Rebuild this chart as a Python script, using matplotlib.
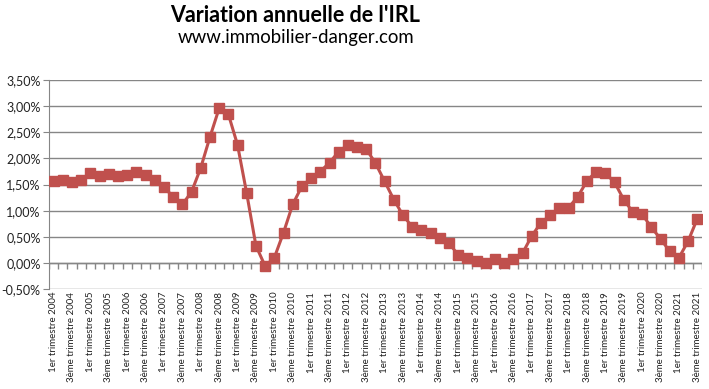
import numpy as np
import matplotlib
matplotlib.use("Agg")
import matplotlib.pyplot as plt
from matplotlib.ticker import FuncFormatter

# Variation annuelle de l'IRL, en %, un point par trimestre (T1 2004 -> T3 2021)
irl = [
    1.56, 1.58, 1.55, 1.59,   # 2004
    1.73, 1.67, 1.71, 1.67,   # 2005
    1.69, 1.74, 1.69, 1.59,   # 2006
    1.46, 1.26, 1.12, 1.36,   # 2007
    1.82, 2.41, 2.96, 2.85,   # 2008
    2.26, 1.33, 0.33, -0.06,  # 2009
    0.10, 0.58, 1.12, 1.47,   # 2010
    1.62, 1.75, 1.92, 2.13,   # 2011
    2.26, 2.22, 2.18, 1.91,   # 2012
    1.56, 1.21, 0.91, 0.69,   # 2013
    0.63, 0.58, 0.48, 0.38,   # 2014
    0.15, 0.10, 0.03, 0.00,   # 2015
    0.08, 0.00, 0.08, 0.19,   # 2016
    0.52, 0.77, 0.91, 1.06,   # 2017
    1.06, 1.27, 1.57, 1.75,   # 2018
    1.72, 1.54, 1.21, 0.97,   # 2019
    0.93, 0.68, 0.46, 0.22,   # 2020
    0.10, 0.42, 0.85,         # 2021
]
years = list(range(2004, 2022))
quarter_names = ["1er trimestre", "2ème trimestre", "3ème trimestre", "4ème trimestre"]

labels = [f"{q} {y}" for y in years for q in quarter_names][:len(irl)]
x = np.arange(len(irl))

plt.rcParams['font.family'] = ['Lato', 'DejaVu Sans']

fig = plt.figure(figsize=(7.09, 3.89), dpi=100)
ax = fig.add_axes([0.0691, 0.257, 0.921, 0.537])

grid_col = "#868686"
red = "#C0504D"

ax.plot(x, irl, color=red, lw=2.2, marker="s", ms=6.5, zorder=3)

ax.set_xlim(-0.5, len(irl) - 0.5)
ax.set_ylim(-0.5, 3.5)
ax.set_yticks(np.arange(-0.5, 3.51, 0.5))
ax.yaxis.set_major_formatter(FuncFormatter(lambda v, p: f"{v:.2f}%".replace(".", ",")))
ax.grid(axis="y", color=grid_col, lw=1)
ax.set_axisbelow(True)

for s in ["top", "right", "bottom"]:
    ax.spines[s].set_visible(False)
ax.spines["left"].set_color(grid_col)

# axe des categories a 0 avec petites graduations
ax.axhline(0, color=grid_col, lw=1, zorder=2)
ax.vlines(np.arange(len(irl) + 1) - 0.5, -0.11, 0, color=grid_col, lw=1, zorder=2)

ax.set_xticks(x[::2])
ax.set_xticklabels(labels[::2], rotation=90, fontsize=7, color="#222222")
ax.tick_params(axis="x", length=0, pad=2)
ax.tick_params(axis="y", length=4, color=grid_col, labelsize=9, labelcolor="#222222", pad=2)

fig.text(0.416, 0.96, "Variation annuelle de l'IRL", ha="center", va="center",
         fontsize=15.5, fontweight="bold")
fig.text(0.417, 0.903, "www.immobilier-danger.com", ha="center", va="center", fontsize=13.4)

fig.savefig("out.png", dpi=100)
